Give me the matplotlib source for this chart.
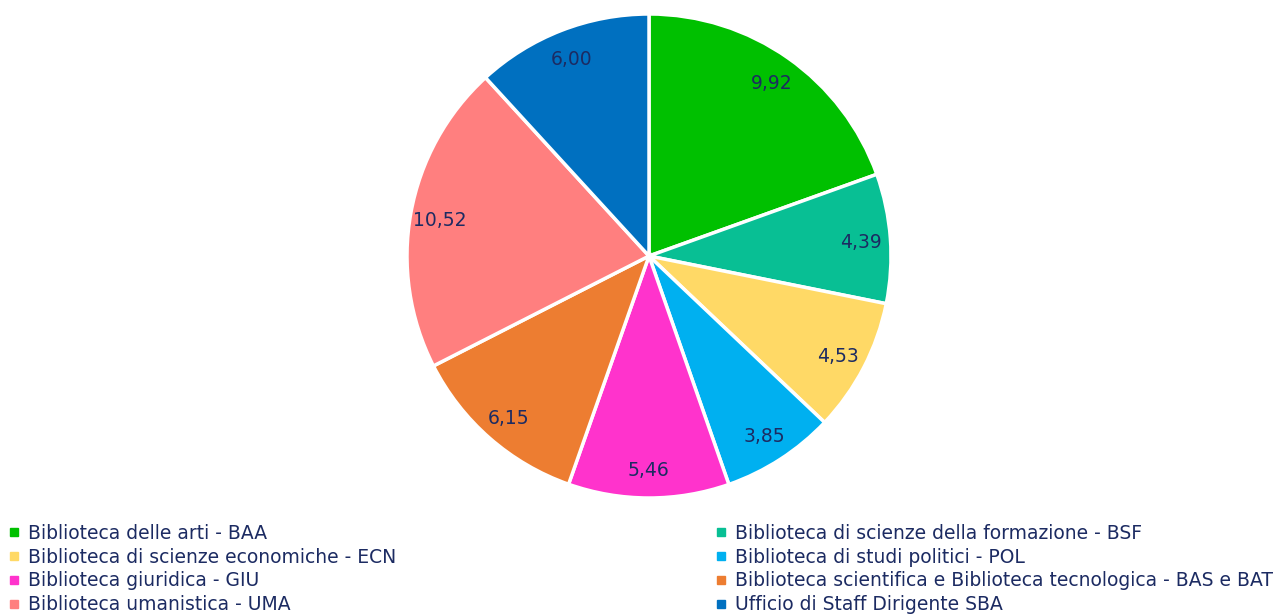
import matplotlib.pyplot as plt
from matplotlib.lines import Line2D

plt.rcParams['font.family'] = ['DejaVu Sans']

labels = ["Biblioteca delle arti - BAA",
          "Biblioteca di scienze della formazione - BSF",
          "Biblioteca di scienze economiche - ECN",
          "Biblioteca di studi politici - POL",
          "Biblioteca giuridica - GIU",
          "Biblioteca scientifica e Biblioteca tecnologica - BAS e BAT",
          "Biblioteca umanistica - UMA",
          "Ufficio di Staff Dirigente SBA"]
values = [9.92, 4.39, 4.53, 3.85, 5.46, 6.15, 10.52, 6.00]
colors = ["#00C000", "#08BF94", "#FFD966", "#00B0F0",
          "#FF33CC", "#ED7D31", "#FF7F7F", "#0070C0"]
text_color = "#1C2B62"

fig = plt.figure(figsize=(12.79, 6.14), dpi=100)
W, H = 1279, 614

# pie axes: centre (649, 256) px, radius 242 px
cx, cy, r = 649, 256, 242
ax = fig.add_axes([(cx - r) / W, (H - cy - r) / H, 2 * r / W, 2 * r / H])

wedges, texts = ax.pie(values, colors=colors, startangle=90, counterclock=False,
                       labels=[f"{v:.2f}".replace(".", ",") for v in values],
                       labeldistance=0.88,
                       wedgeprops=dict(edgecolor="white", linewidth=2.5))
for t in texts:
    t.set_horizontalalignment("center")
    t.set_verticalalignment("center_baseline")
    t.set_color(text_color)
    t.set_fontsize(13.5)
ax.set_xlim(-1, 1)
ax.set_ylim(-1, 1)
ax.set_aspect("equal")

def make_handles(idx):
    return [Line2D([], [], marker="s", linestyle="none", markersize=5.5,
                   markerfacecolor=colors[i], markeredgecolor=colors[i]) for i in idx]

left = [0, 2, 4, 6]
right = [1, 3, 5, 7]
for idx, x0 in ((left, 8 / W), (right, 715 / W)):
    leg = fig.legend(make_handles(idx), [labels[i] for i in idx],
                     loc="upper left", bbox_to_anchor=(x0, (H - 524) / H),
                     frameon=False, fontsize=13.5, handlelength=0.6,
                     handletextpad=0.45, labelspacing=0.25, borderpad=0,
                     borderaxespad=0)
    for t in leg.get_texts():
        t.set_color(text_color)

fig.savefig("out.png", dpi=100)
